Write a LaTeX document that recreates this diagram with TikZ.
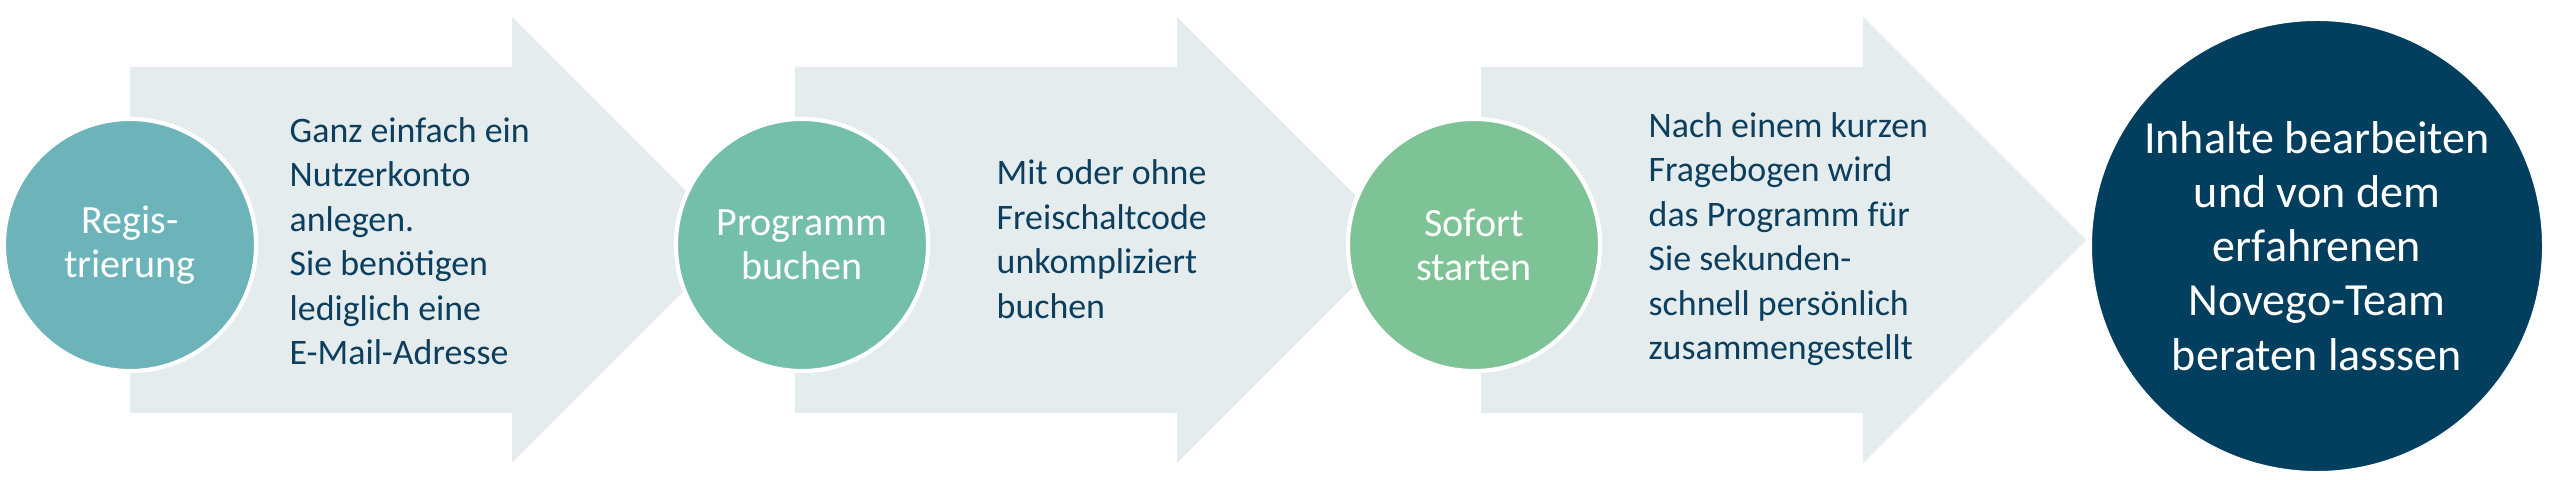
\documentclass[tikz,border=0pt]{standalone}
\usepackage{fontspec}
\setmainfont{Carlito}

\definecolor{stepA}{HTML}{6CB3BA}
\definecolor{stepB}{HTML}{74BFAA}
\definecolor{stepC}{HTML}{7EC396}
\definecolor{stepD}{HTML}{023F5E}
\definecolor{flowgray}{HTML}{E4ECEE}
\definecolor{textblue}{HTML}{0C3E5E}

\tikzset{
  flow/.style={fill=flowgray},
  stepdot/.style={circle, draw=white, line width=1.2pt, fill=#1, text=white,
    align=center, minimum size=2.52cm, inner sep=0pt,
    font=\fontsize{11.4}{12.5}\selectfont},
  info/.style={anchor=west, align=left, text=textblue, inner sep=0pt,
    font=\fontsize{10.2}{12.66}\selectfont},
}

\begin{document}
\begin{tikzpicture}[x=0.01cm, y=-0.01cm]
    \useasboundingbox (0,0) rectangle (2560,480);
    % arrows behind the circles
    \foreach \s in {130,795,1481}
        \fill[flow] (\s,67) -- ++(382,0) -- ++(0,-50) -- ++(223,223)
            -- ++(-223,223) -- ++(0,-50) -- ++(-382,0) -- cycle;
    % steps
    \node[stepdot=stepA] (reg) at (130,245) {Regis-\\trierung};
    \node[info] (regtext) at (289,241) {Ganz einfach ein\\Nutzerkonto\\anlegen.\\Sie benötigen\\lediglich eine\\E-Mail-Adresse};
    \node[stepdot=stepB] (buch) at (802,245) {Programm\\buchen};
    \node[info] (buchtext) at (996,239) {Mit oder ohne\\Freischaltcode\\unkompliziert\\buchen};
    \node[stepdot=stepC] (start) at (1474,245) {Sofort\\starten};
    \node[info] (starttext) at (1648,239) {Nach einem kurzen\\Fragebogen wird\\das Programm für\\Sie sekunden-\\schnell persönlich\\zusammengestellt};
    \node[stepdot=stepD, minimum size=4.54cm, font=\fontsize{13.1}{15.4}\selectfont] (team) at (2317,246) {Inhalte bearbeiten\\und von dem\\erfahrenen\\Novego-Team\\beraten lasssen};
\end{tikzpicture}
\end{document}
